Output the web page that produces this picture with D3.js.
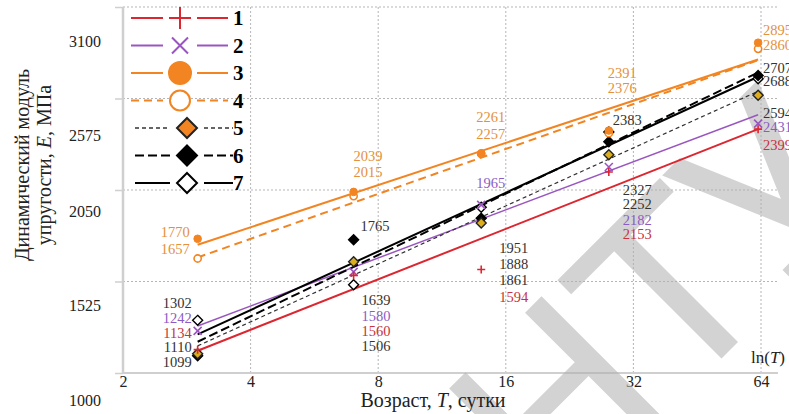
<!DOCTYPE html>
<html>
<head>
<meta charset="utf-8">
<script src="https://cdn.jsdelivr.net/npm/d3@7"></script>
<style>
  body { margin: 0; background: #fff; }
  svg { display: block; font-family: "Liberation Serif", "Times New Roman", serif; }
</style>
</head>
<body>
<div id="chart"></div>
<script>
// ---- data ----
var ages = [3, 7, 14, 28, 63];               // T, сутки
var xTicks = [2, 4, 8, 16, 32, 64];
var yTicks = [1000, 1525, 2050, 2575, 3100];
var legendNames = ['1', '2', '3', '4', '5', '6', '7'];
var e1 = [1134, 1560, 1594, 2153, 2399];
var e2 = [1242, 1580, 1965, 2182, 2431];
var e3 = [1770, 2039, 2261, 2391, 2895];
var e4 = [1657, 2015, 2257, 2376, 2860];
var e5 = [1110, 1639, 1861, 2252, 2594];
var e6 = [1099, 1765, 1888, 2327, 2707];
var e7 = [1302, 1506, 1951, 2383, 2688];
var series = [e1, e2, e3, e4, e5, e6, e7];

// ---- look ----
var width = 789, height = 414;
var styles = [
  { line: '#dc2630', w: 2,   dash: null,  marker: 'plus',    stroke: '#dc2630', fill: 'none',    legFill: 'none',    text: '#c8323c' },
  { line: '#9a55c0', w: 1.5, dash: null,  marker: 'x',       stroke: '#9a55c0', fill: 'none',    legFill: 'none',    text: '#8c5cc4' },
  { line: '#f28522', w: 2,   dash: null,  marker: 'circle',  stroke: '#f28522', fill: '#f28522', legFill: '#f28522', text: '#e5913c' },
  { line: '#f28522', w: 2,   dash: '8,5', marker: 'ocircle', stroke: '#f28522', fill: '#fff',    legFill: '#fff',    text: '#e5913c' },
  { line: '#333',    w: 1.2, dash: '4,3', marker: 'diamond', stroke: '#222',    fill: '#dcae1d', legFill: '#f28522', text: '#333' },
  { line: '#000',    w: 2,   dash: '9,4', marker: 'diamond', stroke: '#000',    fill: '#000',    legFill: '#000',    text: '#333' },
  { line: '#000',    w: 2,   dash: null,  marker: 'diamond', stroke: '#000',    fill: '#fff',    legFill: '#fff',    text: '#333' }
];

var svg = d3.select('#chart').append('svg')
  .attr('width', width)
  .attr('height', height);

var x = d3.scaleLog().base(2).domain([2, 64]).range([123, 761]);
var y = d3.scaleLinear().domain([1000, 3100]).range([373, 7]);

// grid
var grid = svg.append('g').attr('stroke', '#b5b5b5').attr('stroke-dasharray', '2,2').attr('stroke-width', 1);
grid.selectAll('.v').data(xTicks.slice(1)).enter().append('line')
  .attr('x1', d => x(d)).attr('x2', d => x(d))
  .attr('y1', y(3100)).attr('y2', y(1000));
grid.selectAll('.h').data(yTicks.slice(1)).enter().append('line')
  .attr('x1', x(2)).attr('x2', 778)
  .attr('y1', d => y(d)).attr('y2', d => y(d));

// axes
svg.append('line').attr('x1', x(2)).attr('x2', x(2)).attr('y1', y(3100)).attr('y2', y(1000))
  .attr('stroke', '#cfcfcf').attr('stroke-width', 2.5);
svg.append('line').attr('x1', x(2)).attr('x2', 778).attr('y1', y(1000)).attr('y2', y(1000))
  .attr('stroke', '#cfcfcf').attr('stroke-width', 2);

var yLabelShift = [27, 24, 21, 37, 34];   // labels sit between the grid lines in the original
var yAxis = svg.append('g')
  .attr('transform', 'translate(' + x(2) + ',0)')
  .call(d3.axisLeft(y).tickValues(yTicks).tickSize(8).tickPadding(14).tickFormat(d3.format('d')));
yAxis.select('.domain').remove();
yAxis.selectAll('.tick line').attr('stroke', '#cfcfcf').attr('stroke-width', 1.5);
yAxis.selectAll('.tick text')
  .attr('font-family', '"Liberation Serif", serif').attr('font-size', 16).attr('fill', '#222')
  .attr('dy', (d, i) => (yLabelShift[i] + 5) + 'px');

var xAxis = svg.append('g')
  .attr('transform', 'translate(0,' + y(1000) + ')')
  .call(d3.axisBottom(x).tickValues(xTicks).tickSize(0).tickPadding(3).tickFormat(d3.format('d')));
xAxis.select('.domain').remove();
xAxis.selectAll('.tick text')
  .attr('font-family', '"Liberation Serif", serif').attr('font-size', 16).attr('fill', '#222');

// watermark (drawn under the data)
svg.append('text')
  .attr('transform', 'translate(440,640) rotate(-45)')
  .attr('font-family', '"DejaVu Sans", sans-serif')
  .attr('font-size', 235).attr('fill', '#b0b0b0').attr('opacity', 0.55)
  .text('БНТУ');

// markers
function marker(g, type, cx, cy, s, st, fill) {
  var p;
  if (type === 'plus') p = 'M' + (cx - s) + ',' + cy + 'H' + (cx + s) + 'M' + cx + ',' + (cy - s) + 'V' + (cy + s);
  else if (type === 'x') p = 'M' + (cx - s) + ',' + (cy - s) + 'L' + (cx + s) + ',' + (cy + s) + 'M' + (cx - s) + ',' + (cy + s) + 'L' + (cx + s) + ',' + (cy - s);
  else if (type === 'diamond') p = 'M' + cx + ',' + (cy - s) + 'L' + (cx + s) + ',' + cy + 'L' + cx + ',' + (cy + s) + 'L' + (cx - s) + ',' + cy + 'Z';
  if (type === 'circle' || type === 'ocircle') {
    return g.append('circle').attr('cx', cx).attr('cy', cy).attr('r', s)
      .attr('fill', fill).attr('stroke', st.stroke).attr('stroke-width', type === 'ocircle' ? 1.6 : 1);
  }
  return g.append('path').attr('d', p).attr('fill', fill).attr('stroke', st.stroke)
    .attr('stroke-width', type === 'diamond' ? 1.4 : 1.6);
}

// trend lines (least squares against ln T)
var lx = ages.map(t => Math.log2(t));
function fit(vals) {
  var mx = d3.mean(lx), my = d3.mean(vals);
  var sxy = d3.sum(lx, (v, i) => (v - mx) * (vals[i] - my));
  var sxx = d3.sum(lx, v => (v - mx) * (v - mx));
  var b = sxy / sxx;
  return t => my + b * (Math.log2(t) - mx);
}
var lines = svg.append('g');
series.forEach(function (vals, k) {
  var f = fit(vals);
  var st = styles[k];
  lines.append('line')
    .attr('x1', x(ages[0])).attr('y1', y(f(ages[0])))
    .attr('x2', x(ages[ages.length - 1])).attr('y2', y(f(ages[ages.length - 1])))
    .attr('stroke', st.line).attr('stroke-width', st.w)
    .attr('stroke-dasharray', st.dash);
});

// points
var pts = svg.append('g');
var plotSize = { plus: 4, x: 4, circle: 3.8, ocircle: 3.6, diamond: 5 };
[6, 5, 4, 3, 2, 1, 0].forEach(function (k) {
  var st = styles[k];
  series[k].forEach(function (v, i) {
    marker(pts, st.marker, x(ages[i]), y(v), plotSize[st.marker], st, st.fill);
  });
});

// value labels
var labelGroups = [
  { i: 0, anchor: 'end',   dx: -8, ys: [232, 249], s: [2, 3] },
  { i: 0, anchor: 'end',   dx: -6, ys: [303, 318, 333, 347, 362], s: [6, 1, 0, 4, 5] },
  { i: 1, anchor: 'start', dx: 0,  ys: [156, 172], s: [2, 3] },
  { i: 1, anchor: 'start', dx: 7,  ys: [226], s: [5] },
  { i: 1, anchor: 'start', dx: 8,  ys: [300, 316, 331, 346], s: [4, 1, 0, 6] },
  { i: 2, anchor: 'start', dx: -5, ys: [117, 134], s: [2, 3] },
  { i: 2, anchor: 'start', dx: -5, ys: [183], s: [1] },
  { i: 2, anchor: 'start', dx: 18, ys: [248, 264, 280, 297], s: [6, 5, 4, 0] },
  { i: 3, anchor: 'start', dx: -1, ys: [73, 88], s: [2, 3] },
  { i: 3, anchor: 'start', dx: 4,  ys: [120], s: [6] },
  { i: 3, anchor: 'start', dx: 14, ys: [190, 204, 220, 234], s: [5, 4, 1, 0] },
  { i: 4, anchor: 'start', dx: 5,  ys: [30, 45, 68, 81, 113, 127, 145], s: [2, 3, 5, 6, 4, 1, 0] }
];
var vl = svg.append('g').attr('font-size', 14.5);
labelGroups.forEach(function (grp) {
  grp.s.forEach(function (k, j) {
    vl.append('text')
      .attr('x', x(ages[grp.i]) + grp.dx)
      .attr('y', grp.ys[j])
      .attr('dy', '0.35em')
      .attr('text-anchor', grp.anchor)
      .attr('fill', styles[k].text)
      .text(series[k][grp.i]);
  });
});

// legend
var leg = svg.append('g');
var legY0 = 18, legStep = 27.5;
legendNames.forEach(function (name, k) {
  var st = styles[k];
  var cy = legY0 + k * legStep;
  var mx = k < 4 ? 180 : 187;
  var segs = k < 4 ? [[131, 163], [197, 228]] : [[135, 170], [204, 233]];
  segs.forEach(function (sg) {
    leg.append('line').attr('x1', sg[0]).attr('x2', sg[1]).attr('y1', cy).attr('y2', cy)
      .attr('stroke', st.line).attr('stroke-width', k === 4 ? 1.4 : 2)
      .attr('stroke-dasharray', st.dash);
  });
  var ls = { plus: 11, x: 8, circle: 11, ocircle: 10, diamond: 10 }[st.marker];
  var m = marker(leg, st.marker, mx, cy, ls, st, st.legFill);
  m.attr('stroke-width', 2);
  leg.append('text').attr('x', 233).attr('y', cy).attr('dy', '0.35em')
    .attr('font-size', 21).attr('font-weight', 'bold').attr('fill', '#000')
    .text(name);
});

// titles
svg.append('text').attr('x', 433).attr('y', 407).attr('text-anchor', 'middle')
  .attr('font-size', 20).attr('fill', '#222')
  .call(t => {
    t.append('tspan').text('Возраст, ');
    t.append('tspan').attr('font-style', 'italic').text('T');
    t.append('tspan').text(', сутки');
  });

var yt = svg.append('text').attr('transform', 'translate(29,165) rotate(-90)')
  .attr('text-anchor', 'middle').attr('font-size', 20).attr('fill', '#222');
yt.append('tspan').attr('x', 0).attr('y', 0).text('Динамический модуль');
var l2 = yt.append('tspan').attr('x', 0).attr('y', 22);
l2.append('tspan').text('упругости, ');
l2.append('tspan').attr('font-style', 'italic').text('E');
l2.append('tspan').text(', МПа');

svg.append('text').attr('x', 768).attr('y', 363).attr('text-anchor', 'middle')
  .attr('font-size', 17).attr('fill', '#222')
  .call(t => {
    t.append('tspan').text('ln(');
    t.append('tspan').attr('font-style', 'italic').text('T');
    t.append('tspan').text(')');
  });
</script>
</body>
</html>
